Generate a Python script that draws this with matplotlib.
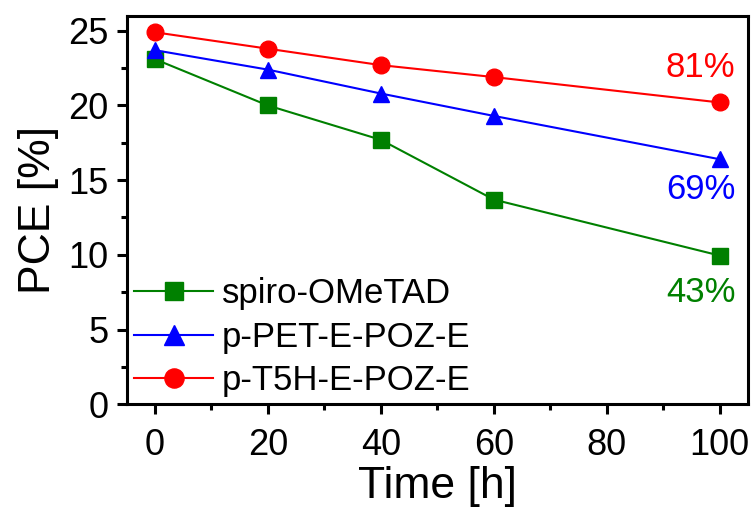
import numpy as np
import matplotlib
matplotlib.use('Agg')
import matplotlib.pyplot as plt
from matplotlib.ticker import MultipleLocator

plt.rcParams['font.family'] = ['Liberation Sans', 'DejaVu Sans']

time_h = [0, 20, 40, 60, 100]
spiro = [23.1, 20.0, 17.7, 13.7, 9.95]
p_pet = [23.7, 22.4, 20.8, 19.3, 16.4]
p_t5h = [24.9, 23.8, 22.7, 21.9, 20.2]

series_names = ['spiro-OMeTAD', 'p-PET-E-POZ-E', 'p-T5H-E-POZ-E']
retention = ['43%', '69%', '81%']
label_y = [7.5, 14.35, 22.55]

colors = ['#008000', '#0000FF', '#FF0000']
markers = ['s', '^', 'o']
sizes = [11, 12, 12]

fig = plt.figure(figsize=(7.54, 5.11), dpi=100)
ax = fig.add_axes([0.168, 0.209, 0.824, 0.760])

for ys, name, c, m, ms in zip([spiro, p_pet, p_t5h], series_names, colors, markers, sizes):
    ax.plot(time_h, ys, color=c, marker=m, markersize=ms, linewidth=1.5, label=name)

for txt, yv, c in zip(retention, label_y, colors):
    ax.text(96.6, yv, txt, color=c, fontsize=25, ha='center', va='center')

ax.set_xlim(-5, 105)
ax.set_ylim(0, 26)
ax.xaxis.set_major_locator(MultipleLocator(20))
ax.xaxis.set_minor_locator(MultipleLocator(10))
ax.yaxis.set_major_locator(MultipleLocator(5))
ax.yaxis.set_minor_locator(MultipleLocator(2.5))

for s in ax.spines.values():
    s.set_linewidth(2.2)
ax.tick_params(which='major', direction='out', length=7, width=2.2, labelsize=26)
ax.tick_params(which='minor', direction='out', length=4, width=2.2)
ax.tick_params(axis='x', which='major', pad=10)
ax.tick_params(axis='y', which='major', pad=6)

ax.set_xlabel('Time [h]', fontsize=32, labelpad=2)
ax.set_ylabel('PCE [%]', fontsize=32, labelpad=7)

ax.legend(loc='lower left', frameon=False, fontsize=25, handlelength=2.3,
          borderaxespad=0.0, borderpad=0.2, labelspacing=0.3, handletextpad=0.25,
          markerscale=1.15)

fig.savefig('out.png', dpi=100)
